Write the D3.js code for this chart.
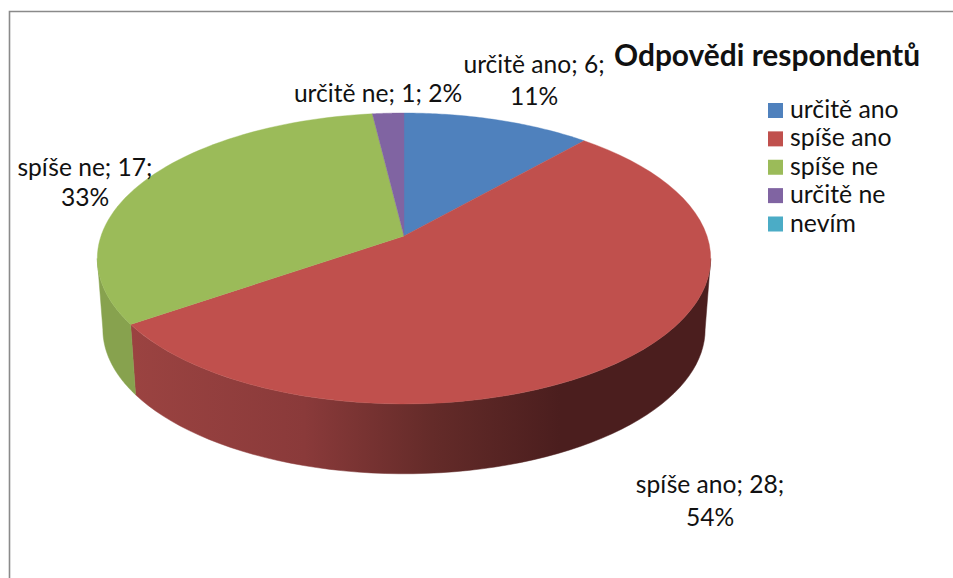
<!DOCTYPE html>
<html><head><meta charset="utf-8">
<script src="https://cdn.jsdelivr.net/npm/d3@7/dist/d3.min.js"></script>
<style>html,body{margin:0;padding:0;background:#fff}svg{display:block}text{font-family:Lato,"Noto Sans",sans-serif;fill:#111}</style>
</head><body><svg id="c" width="953" height="578"></svg>
<script>
const categories = ["určitě ano","spíše ano","spíše ne","určitě ne","nevím"];
const counts = [6,28,17,1,0];
const percents = ["11%","54%","33%","2%","0%"];
const colors = ["#4f81bd","#c0504d","#9bbb59","#8064a2","#4bacc6"];
const titleText = "Odpovědi respondentů";

const svg = d3.select("#c");
// frame: top and left edges only
svg.append("path").attr("d","M9.5 578V11.5H953").attr("fill","none").attr("stroke","#8a8a8a").attr("stroke-width",1.6);

const pie = d3.pie().sort(null).value(d=>d)(counts);
const k = 0.1546;
const topFace = {cx:404, cy:236, A:303, B:142};
const botFace = {cx:404, cy:307, A:297.5, B:141};
function proj(f,a){const u=Math.sin(a),v=Math.cos(a),w=1+k*v;return [f.cx+f.A*u/w,f.cy-f.B*v/w];}
const line = d3.line();
function arcPts(f,a0,a1){return d3.range(0,61).map(i=>proj(f,a0+(a1-a0)*i/60));}

const defs = svg.append("defs");
const edgeA = Math.acos(-k), edgeB = 2*Math.PI-edgeA;

const redG = defs.append("linearGradient").attr("id","gr").attr("gradientUnits","userSpaceOnUse").attr("x1",130).attr("x2",711).attr("y1",0).attr("y2",0);
[[0,"#9b4341"],[0.3,"#8a3a3a"],[0.52,"#642b29"],[0.74,"#4b1e1e"],[1,"#4b1e1e"]].forEach(s=>redG.append("stop").attr("offset",s[0]).attr("stop-color",s[1]));

function wall(a0,a1,fill){
  const p = arcPts(topFace,a0,a1).concat(arcPts(botFace,a1,a0));
  svg.append("path").attr("d",line(p)+"Z").attr("fill",fill).attr("stroke",fill).attr("stroke-width",0.5);
}
wall(edgeA,pie[1].endAngle,"url(#gr)");
wall(pie[1].endAngle,edgeB,"#87a24e");

pie.forEach((d,i)=>{
  if(d.endAngle<=d.startAngle) return;
  const p=[[topFace.cx,topFace.cy]].concat(arcPts(topFace,d.startAngle,d.endAngle));
  svg.append("path").attr("d",line(p)+"Z").attr("fill",colors[i]).attr("stroke",colors[i]).attr("stroke-width",0.4);
});

// data labels
const labelLines = [
 [[`${categories[0]}; ${counts[0]};`,534,73],[percents[0],534,105]],
 [[`${categories[1]}; ${counts[1]};`,710,493],[percents[1],710,526]],
 [[`${categories[2]}; ${counts[2]};`,85,176],[percents[2],85,206]],
 [[`${categories[3]}; ${counts[3]}; ${percents[3]}`,378,102]]
];
labelLines.forEach(ls=>ls.forEach(l=>svg.append("text").attr("x",l[1]).attr("y",l[2]).attr("text-anchor","middle").attr("font-size",24.6).text(l[0])));

svg.append("text").attr("x",767).attr("y",66).attr("text-anchor","middle").attr("font-size",29.9).attr("font-weight",700).text(titleText);

const ly = d3.scalePoint().domain(categories).range([111,224.5]);
categories.forEach((c,i)=>{
  svg.append("rect").attr("x",768).attr("y",ly(c)-8).attr("width",15).attr("height",15).attr("fill",colors[i]);
  svg.append("text").attr("x",790).attr("y",ly(c)+7).attr("font-size",24.8).text(c);
});
</script></body></html>
